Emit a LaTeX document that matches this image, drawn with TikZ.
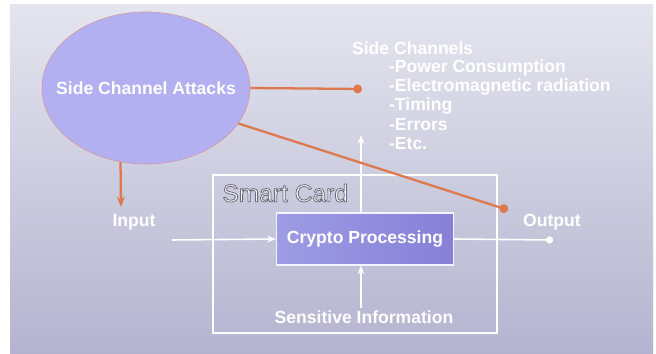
\documentclass[tikz,border=0pt]{standalone}
\usepackage{fontspec}
\setsansfont{Liberation Sans}
\usetikzlibrary{arrows.meta,shapes.geometric}

\definecolor{bgtop}{RGB}{228,229,238}
\definecolor{bgmid}{RGB}{172,172,198}
\definecolor{bgbot}{RGB}{180,180,208}
\definecolor{lilac}{RGB}{178,176,240}
\definecolor{cryptoL}{RGB}{158,156,228}
\definecolor{cryptoR}{RGB}{134,128,216}
\definecolor{attack}{RGB}{222,120,78}
\definecolor{rim}{RGB}{206,156,170}

\newcommand{\outlined}[1]{\special{pdf:literal direct 2 Tr 0.45 w 0.42 0.42 0.48 RG}#1\special{pdf:literal direct 0 Tr}}

\tikzset{
  wtext/.style={text=white,font=\sffamily\bfseries\fontsize{10}{12}\selectfont,inner sep=1pt},
  attackline/.style={draw=attack,line width=1.3pt},
  flowline/.style={draw=white,line width=0.9pt}
}

\begin{document}
\begin{tikzpicture}[x=0.02cm,y=-0.02cm]

\useasboundingbox (0,0) rectangle (656,354);
\fill[white] (0,0) rectangle (656,354);
\shade[top color=bgtop,middle color=bgmid,bottom color=bgbot] (10,5) rectangle (653,354);

%attacks
\node[ellipse,draw=rim,fill=lilac,minimum width=4.16cm,minimum height=3.04cm] (sca) at (146,88) {};
\node[wtext] (scat) at (146,88) {Side Channel Attacks};

%side channels
\node[wtext,anchor=west] (sc) at (350,48) {Side Channels};
\node[wtext,anchor=west] (sc1) at (387,68) {-Power Consumption};
\node[wtext,anchor=west] (sc2) at (387,87) {-Electromagnetic radiation};
\node[wtext,anchor=west] (sc3) at (387,106) {-Timing};
\node[wtext,anchor=west] (sc4) at (387,125) {-Errors};
\node[wtext,anchor=west] (sc5) at (387,144) {-Etc.};

%smart card
\node[draw=white,line width=1pt,minimum width=5.68cm,minimum height=3.16cm] (card) at (355,254) {};
\node[anchor=west,text=white!92!gray,font=\sffamily\fontsize{14}{16}\selectfont,inner sep=0pt] (cardt) at (222,193) {\outlined{Smart Card}};
\node[draw=white!85!lilac,line width=0.6pt,left color=cryptoL,right color=cryptoR,minimum width=3.54cm,minimum height=1.04cm,wtext] (cp) at (365,239) {Crypto Processing};

\node[wtext] (in) at (134,222) {Input};
\node[wtext] (out) at (552,222) {Output};
\node[wtext] (si) at (364,317) {Sensitive Information};

\coordinate (leak) at (361,135);
\coordinate (inS) at (172,240);
\coordinate (outE) at (553,240);
\coordinate (hitA) at (362,89);
\coordinate (hitB) at (508,210);
\coordinate (hitC) at (121,207);

%white flow
\path[flowline,-{Stealth[length=5pt]}] (inS) -- (cp.west);
\path[flowline,-{Circle[length=4pt]}] (cp.east) -- (outE);
\path[flowline,-{Stealth[length=5pt]}] (cp.north -| leak) -- (leak);
\path[flowline,-{Stealth[length=5pt]}] (si.north -| leak) -- (cp.south -| leak);

%attack lines
\path[attackline,-{Circle[length=5pt]}] (sca.east) -- (hitA);
\path[attackline,-{Circle[length=5pt]}] (sca.-21) -- (hitB);
\path[attackline,-{Stealth[length=6pt]}] (sca.-109) -- (hitC);

\end{tikzpicture}
\end{document}
